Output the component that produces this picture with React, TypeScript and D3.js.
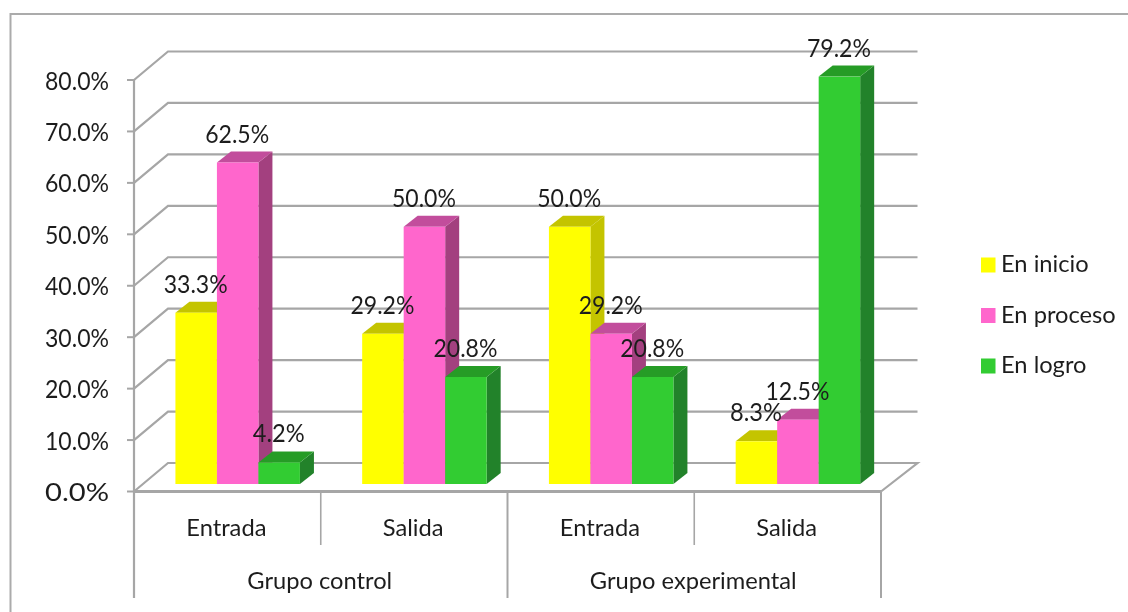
import React from "react";
import * as d3 from "d3";

const subCategories = ["Entrada", "Salida", "Entrada", "Salida"];
const groupLabels = ["Grupo control", "Grupo experimental"];
const seriesNames = ["En inicio", "En proceso", "En logro"];
const enInicio = [33.3, 29.2, 50.0, 8.3];
const enProceso = [62.5, 50.0, 29.2, 12.5];
const enLogro = [4.2, 20.8, 20.8, 79.2];
const seriesValues = [enInicio, enProceso, enLogro];
const yTicks = [0, 10, 20, 30, 40, 50, 60, 70, 80];
const frontColors = ["#ffff00", "#ff66cc", "#33cc33"];
const topColors = ["#c4c400", "#c24d9c", "#289c28"];
const sideColors = ["#c4c400", "#a3417f", "#21822a"];

const axisFront = { left: 134, right: 881, bottom: 491.5, top: 80 };
const wall = { dx: 34, dy: -28.5 };
const backRight = 917.5;
const barDepth = { dx: 14, dy: -11 };
const barFloor = { dx: 0, dy: -7.5 };
const GRID = "#a6a6a6";
const TEXT = "#1f1f1f";
const FONT = "Lato, Carlito, sans-serif";
const FS = 23.7;
const NUM_FS = 25;

const fmt = (v: number) => v.toFixed(1) + "%";

export default function App() {
  const y = d3.scaleLinear().domain([0, 80]).range([axisFront.bottom, axisFront.top]);
  const x0 = d3
    .scaleBand<number>()
    .domain(d3.range(subCategories.length))
    .range([axisFront.left, axisFront.right]);
  const x1 = d3
    .scaleBand<number>()
    .domain(d3.range(seriesNames.length))
    .range([0, x0.bandwidth()])
    .paddingInner(0)
    .paddingOuter(0.75);
  const shift = 10.3;
  const lineProps = { stroke: GRID, strokeWidth: 2.2, fill: "none" };

  return (
    <svg
      width={1128}
      height={612}
      style={{ position: "absolute", left: 0, top: 0, background: "#fff" }}
      fontFamily={FONT}
      fontSize={FS}
      fill={TEXT}
    >
      <defs>
        <filter id="soft" x="0" y="0" width="1128" height="612" filterUnits="userSpaceOnUse" primitiveUnits="userSpaceOnUse">
          <feGaussianBlur stdDeviation="0.4" />
        </filter>
      </defs>
      <g filter="url(#soft)">
        <path d="M10.5,612 V14 H1128" stroke="#ababab" strokeWidth={2} fill="none" />

        {yTicks.map((t) => {
          const py = y(t);
          const isFloor = t === 0;
          return (
            <g key={t}>
              <path
                d={`M${axisFront.left},${py} l${wall.dx},${wall.dy} H${backRight}${
                  isFloor ? ` L${axisFront.right},${py}` : ""
                }`}
                {...lineProps}
              />
              <line x1={axisFront.left - 7} x2={axisFront.left} y1={py} y2={py} stroke={GRID} strokeWidth={2} />
              <text x={109} y={py + 9.5} fontSize={NUM_FS} textAnchor="end" textLength={64} lengthAdjust="spacingAndGlyphs">
                {fmt(t)}
              </text>
            </g>
          );
        })}

        <line x1={axisFront.left} x2={axisFront.left} y1={axisFront.top} y2={598} {...lineProps} />
        <line x1={axisFront.left} x2={axisFront.right} y1={axisFront.bottom} y2={axisFront.bottom} stroke={GRID} strokeWidth={3} />
        {d3.range(subCategories.length + 1).map((i) => {
          const px = axisFront.left + i * x0.step();
          const long = i % 2 === 0;
          return <line key={i} x1={px} x2={px} y1={axisFront.bottom} y2={long ? 598 : 545} stroke={GRID} strokeWidth={long ? 2 : 1.6} />;
        })}

        {subCategories.map((cat, ci) => (
          <g key={ci}>
            {seriesNames.map((_, si) => {
              const v = seriesValues[si][ci];
              const bx = x0(ci)! + x1(si)! + shift;
              const w = x1.bandwidth();
              const base = y(0) + barFloor.dy;
              const top = y(v) + barFloor.dy;
              const { dx, dy } = barDepth;
              return (
                <g key={si}>
                  <path d={`M${bx + w},${top} l${dx},${dy} V${base + dy} L${bx + w},${base} Z`} fill={sideColors[si]} />
                  <path d={`M${bx},${top} l${dx},${dy} h${w} l${-dx},${-dy} Z`} fill={topColors[si]} />
                  <rect x={bx} y={top} width={w} height={base - top} fill={frontColors[si]} />
                </g>
              );
            })}
          </g>
        ))}

        {subCategories.map((cat, ci) =>
          seriesNames.map((_, si) => {
            const v = seriesValues[si][ci];
            const bx = x0(ci)! + x1(si)! + shift;
            return (
              <text
                key={`${ci}-${si}`}
                x={bx + x1.bandwidth() / 2 - 0.5}
                y={y(v) + barFloor.dy - 20}
                fontSize={NUM_FS}
                textAnchor="middle"
                textLength={fmt(v).length > 4 ? 64 : 52}
                lengthAdjust="spacingAndGlyphs"
              >
                {fmt(v)}
              </text>
            );
          })
        )}

        {subCategories.map((cat, i) => (
          <text key={i} x={x0(i)! + x0.bandwidth() / 2 - 1} y={536} textAnchor="middle">
            {cat}
          </text>
        ))}
        {groupLabels.map((g, i) => (
          <text key={g} x={axisFront.left + (i * 2 + 1) * x0.step() - 1} y={588.5} textAnchor="middle">
            {g}
          </text>
        ))}

        {seriesNames.map((s, i) => {
          const baseline = 272 + i * 50.5;
          return (
            <g key={s}>
              <rect x={981} y={baseline - 14.5} width={14.5} height={15} fill={frontColors[i]} />
              <text x={1001} y={baseline}>
                {s}
              </text>
            </g>
          );
        })}
      </g>
    </svg>
  );
}
